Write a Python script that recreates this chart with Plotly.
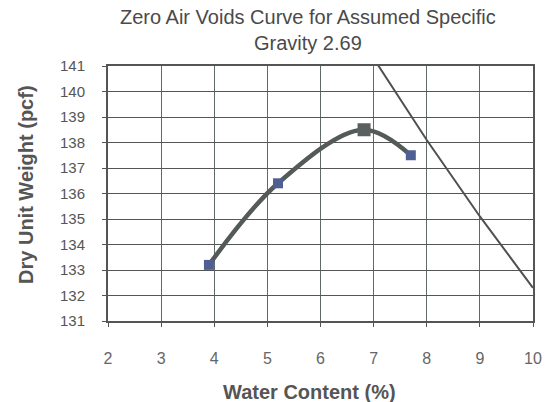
import plotly.graph_objects as go

# Compaction test data
water_content = [3.9, 5.2, 6.8, 7.7]
dry_unit_weight = [133.2, 136.4, 138.5, 137.5]

# Peak (maximum dry unit weight)
peak_w = [6.82]
peak_dw = [138.5]

# Zero air voids line (Gs = 2.69)
zav_w = [7, 8, 9, 10]
zav_dw = [141.3, 138.1, 135.1, 132.3]

x_ticks = [2, 3, 4, 5, 6, 7, 8, 9, 10]
y_ticks = [131, 132, 133, 134, 135, 136, 137, 138, 139, 140, 141]

fig = go.Figure()
fig.add_trace(go.Scatter(
    x=zav_w, y=zav_dw, mode="lines",
    line=dict(color="#505050", width=2), showlegend=False))
fig.add_trace(go.Scatter(
    x=water_content, y=dry_unit_weight, mode="lines+markers",
    line=dict(color="#545a58", width=4.5, shape="spline", smoothing=1.0),
    marker=dict(symbol="square", size=10, color="#4f5f94", line=dict(width=0)),
    showlegend=False))
fig.add_trace(go.Scatter(
    x=peak_w, y=peak_dw, mode="markers",
    marker=dict(symbol="square", size=13, color="#5a5f60"),
    showlegend=False))

# plot area in pixels: x 108..538, y 66..321
PL, PR, PT, PB = 108, 538, 66, 321


def px(x):
    return (x - PL) / (PR - PL)


def py(y):
    return (PB - y) / (PB - PT)


font_family = "Liberation Sans, Arial, sans-serif"
fig.update_layout(
    width=554, height=402,
    margin=dict(l=PL, r=554 - PR, t=PT, b=402 - PB),
    paper_bgcolor="white", plot_bgcolor="white",
    font=dict(family=font_family, color="#505050"),
    annotations=[
        dict(text="Zero Air Voids Curve for Assumed Specific<br>Gravity 2.69",
             x=px(310), y=py(29.5), xref="paper", yref="paper",
             xanchor="center", yanchor="middle", showarrow=False,
             font=dict(size=20, color="#4a4a4a")),
        dict(text="<b>Water Content (%)</b>", x=px(312), y=py(392),
             xref="paper", yref="paper", xanchor="center", yanchor="middle",
             showarrow=False, font=dict(size=20, color="#555")),
        dict(text="<b>Dry Unit Weight (pcf)</b>", x=px(25), y=py(184),
             xref="paper", yref="paper", xanchor="center", yanchor="middle",
             textangle=-90, showarrow=False, font=dict(size=20, color="#555")),
    ],
)
fig.update_xaxes(
    range=[2, 10], tickvals=x_ticks, ticktext=[str(v) for v in x_ticks],
    showgrid=True, gridcolor="#5f6b6b", gridwidth=1,
    showline=True, linecolor="#555", linewidth=2, mirror=True,
    zeroline=False, ticks="outside", ticklen=4, tickcolor="#555",
    ticklabelstandoff=18,
    tickfont=dict(size=16, color="#666"))
fig.update_yaxes(
    range=[131, 141], tickvals=y_ticks, ticktext=[str(v) for v in y_ticks],
    showgrid=True, gridcolor="#555", gridwidth=1,
    showline=True, linecolor="#555", linewidth=2, mirror=True,
    zeroline=False, ticks="outside", ticklen=4, tickcolor="#555",
    ticklabelstandoff=14,
    tickfont=dict(size=15, color="#555"))

fig.write_html("out.html", config={"displayModeBar": False},
               post_script="document.body.style.margin='0';")
